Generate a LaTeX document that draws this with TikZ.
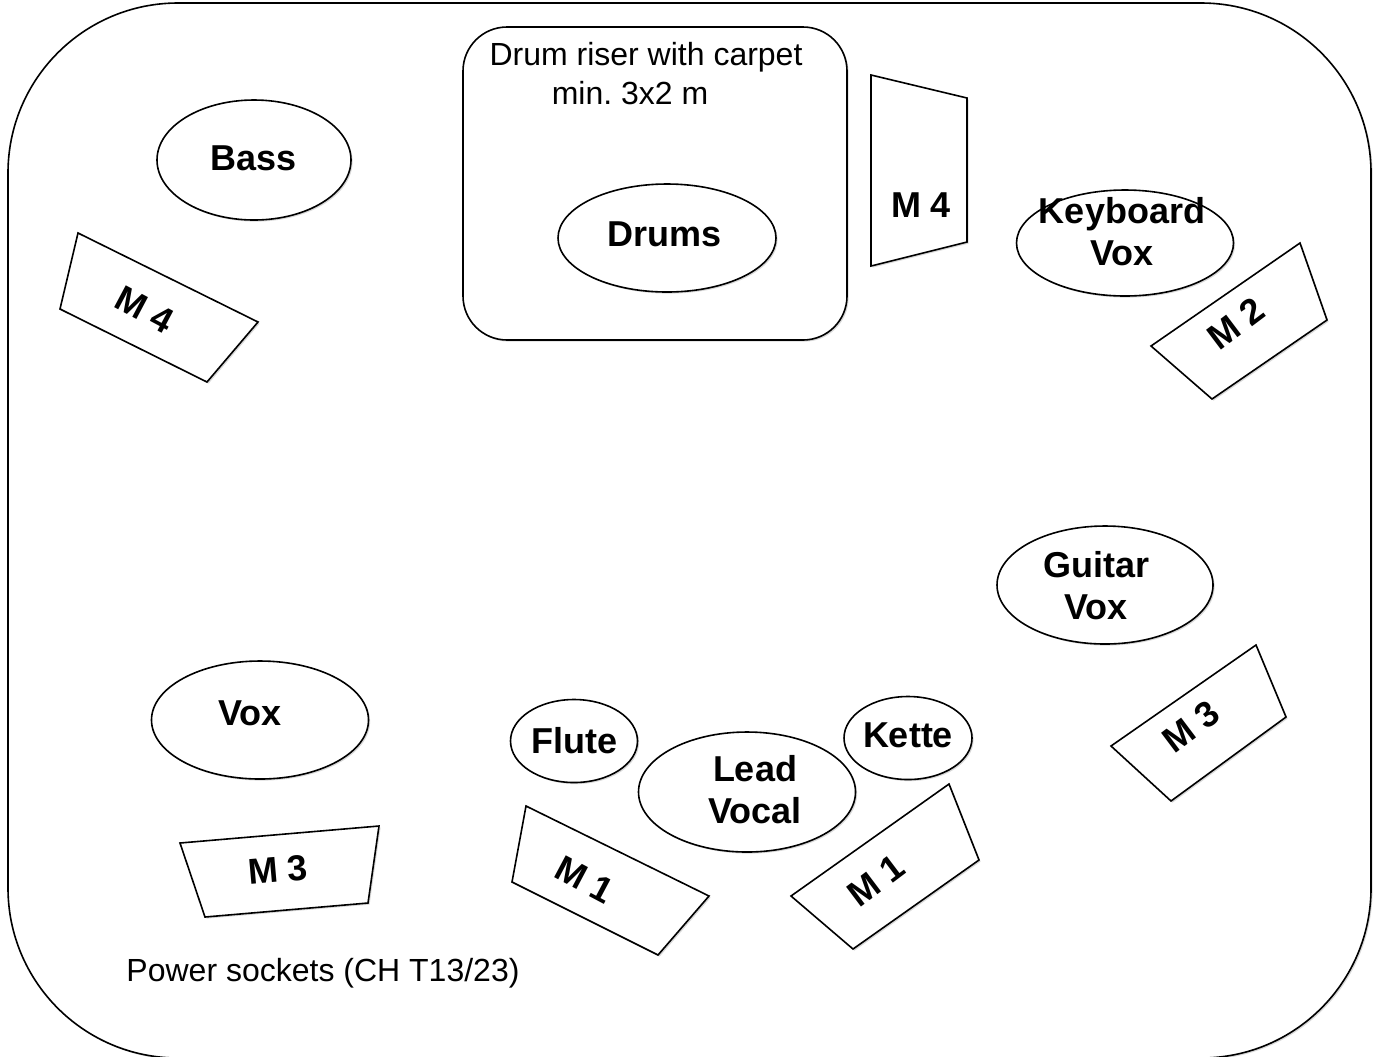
\documentclass[tikz,border=0pt]{standalone}
\usepackage{fontspec}
\setmainfont{Liberation Sans}
\usetikzlibrary{shapes.geometric,shadows}
\frenchspacing

\begin{document}
\begin{tikzpicture}[x=0.5pt,y=-0.5pt,line width=0.8pt,
	lift/.style={drop shadow={shadow xshift=0.8pt,shadow yshift=-0.8pt,opacity=0.3}},
	spot/.style={draw,ellipse,fill=white,inner sep=0pt,lift},
	monitor/.style={draw,fill=white,line join=miter,lift},
	lbl/.style={font=\bfseries\fontsize{18}{21}\selectfont,align=center,inner sep=0pt},
	remark/.style={font=\fontsize{16}{19}\selectfont,inner sep=0pt}]
	\useasboundingbox (0,0) rectangle (1374,1056);
	% stage and drum riser
	\draw[lift,fill=white,rounded corners=85pt] (8,3) rectangle (1371,1058);
	\draw[lift,fill=white,rounded corners=22pt] (463,27) rectangle (847,340);
	\node[remark] (riser1) at (646,57) {Drum riser with carpet};
	\node[remark] (riser2) at (630,93) {min. 3x2 m};
	% players
	\node[spot,minimum width=97pt,minimum height=60pt] (bass) at (254,160) {};
	\node[lbl] at (254,158) {Bass};
	\node[spot,minimum width=109pt,minimum height=54pt] (drums) at (667,238) {};
	\node[lbl] at (665,234) {Drums};
	\node[spot,minimum width=108.5pt,minimum height=53pt] (kbd) at (1125,243) {};
	\node[lbl] at (1122,232) {Keyboard\\Vox};
	\node[spot,minimum width=108pt,minimum height=59pt] (gtr) at (1105,585) {};
	\node[lbl] at (1096,586) {Guitar\\Vox};
	\node[spot,minimum width=108.5pt,minimum height=59pt] (vox) at (260,720) {};
	\node[lbl] at (250,713) {Vox};
	\node[spot,minimum width=63.5pt,minimum height=41.5pt] (flute) at (574,741) {};
	\node[lbl] at (574,741) {Flute};
	\node[spot,minimum width=108.5pt,minimum height=60pt] (lead) at (747,792) {};
	\node[lbl] at (755,790) {Lead\\Vocal};
	\node[spot,minimum width=64pt,minimum height=41.5pt] (kette) at (908,738) {};
	\node[lbl] at (908,735) {Kette};
	% monitors
	\draw[monitor] (78,233) -- (258,322) -- (207,382) -- (60,309) -- cycle;
	\node[lbl,rotate=-28] (m4l) at (145,310) {M 4};
	\draw[monitor] (871,75) -- (967,98) -- (967,242) -- (871,266) -- cycle;
	\node[lbl] (m4t) at (921,205) {M 4};
	\draw[monitor] (1300,243) -- (1327,320) -- (1212,399) -- (1151,346) -- cycle;
	\node[lbl,rotate=37] (m2) at (1236,323) {M 2};
	\draw[monitor] (1256,645) -- (1286,717) -- (1171,801) -- (1111,746) -- cycle;
	\node[lbl,rotate=37] (m3r) at (1191,727) {M 3};
	\draw[monitor] (949,784) -- (979,860) -- (853,949) -- (791,896) -- cycle;
	\node[lbl,rotate=37] (m1r) at (876,881) {M 1};
	\draw[monitor] (526,806) -- (709,896) -- (658,955) -- (512,882) -- cycle;
	\node[lbl,rotate=-28] (m1l) at (585,880) {M 1};
	\draw[monitor] (180,843) -- (379,826) -- (368,903) -- (205,917) -- cycle;
	\node[lbl,rotate=5] (m3l) at (278,870) {M 3};
	% power
	\node[remark] (power) at (323,973) {Power sockets (CH T13/23)};
\end{tikzpicture}
\end{document}
